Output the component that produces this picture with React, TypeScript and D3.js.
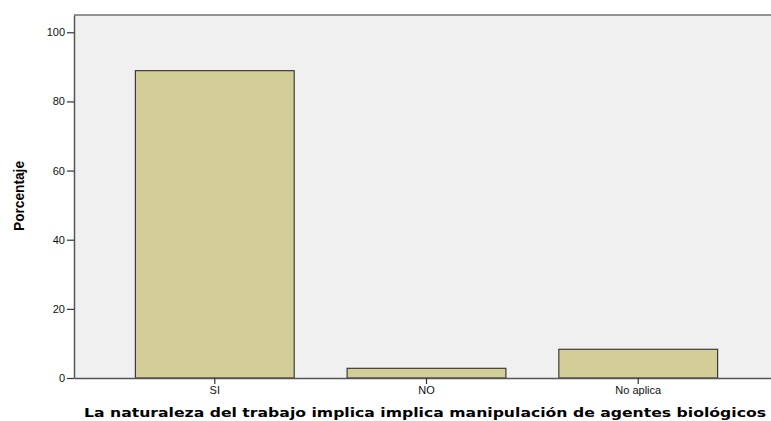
import { useEffect, useRef } from "react";
import * as d3 from "d3";

const categories = ["SI", "NO", "No aplica"];
const percentages = [88.9, 2.8, 8.3];
const yTicks = [0, 20, 40, 60, 80, 100];

const width = 771;
const height = 421;

export default function App() {
  const svgRef = useRef<SVGSVGElement>(null);

  useEffect(() => {
    if (!svgRef.current) return;
    const svg = d3.select(svgRef.current);
    svg.selectAll("*").remove();

    const margin = { top: 15, right: -8, bottom: 43, left: 74 };
    const innerWidth = width - margin.left - margin.right;
    const innerHeight = height - margin.top - margin.bottom;

    const g = svg
      .append("g")
      .attr("transform", `translate(${margin.left},${margin.top})`);

    const xScale = d3
      .scaleBand<string>()
      .domain(categories)
      .range([0, innerWidth])
      .paddingInner(0.25)
      .paddingOuter(0.29);

    const yScale = d3
      .scaleLinear()
      .domain([0, 105])
      .range([innerHeight, 0]);

    // Plot background
    g.append("rect")
      .attr("x", 0)
      .attr("y", 0)
      .attr("width", innerWidth)
      .attr("height", innerHeight)
      .attr("fill", "#f0f0f0");

    // Top frame line
    g.append("line")
      .attr("x1", 0)
      .attr("x2", innerWidth)
      .attr("y1", 0)
      .attr("y2", 0)
      .attr("stroke", "#707070")
      .attr("stroke-width", 1.5);

    // Bars
    g.selectAll("rect.bar")
      .data(categories)
      .enter()
      .append("rect")
      .attr("class", "bar")
      .attr("x", (d) => xScale(d) as number)
      .attr("y", (d, i) => yScale(percentages[i]))
      .attr("width", xScale.bandwidth())
      .attr("height", (d, i) => innerHeight - yScale(percentages[i]))
      .attr("fill", "#d3ce97")
      .attr("stroke", "#3c3c3c")
      .attr("stroke-width", 1.2);

    // Y axis
    const yAxis = g
      .append("g")
      .call(
        d3
          .axisLeft(yScale)
          .tickValues(yTicks)
          .tickSize(7)
          .tickSizeOuter(0)
          .tickPadding(2)
      );
    yAxis.select(".domain").attr("stroke", "#555").attr("stroke-width", 1.5);
    yAxis.selectAll(".tick line").attr("stroke", "#333").attr("stroke-width", 1.2);
    yAxis
      .selectAll("text")
      .attr("fill", "#111")
      .attr("font-family", "Liberation Sans, Arial, sans-serif")
      .attr("font-size", "11px");

    // X axis
    const xAxis = g
      .append("g")
      .attr("transform", `translate(0,${innerHeight})`)
      .call(d3.axisBottom(xScale).tickSize(6).tickSizeOuter(0).tickPadding(2));
    xAxis.select(".domain").attr("stroke", "#555").attr("stroke-width", 1.5);
    xAxis.selectAll(".tick line").attr("stroke", "#333").attr("stroke-width", 1.2);
    xAxis
      .selectAll("text")
      .attr("fill", "#111")
      .attr("font-family", "Liberation Sans, Arial, sans-serif")
      .attr("font-size", "11px");

    // Y axis label
    svg
      .append("text")
      .attr("transform", `translate(23.5,196) rotate(-90)`)
      .attr("text-anchor", "middle")
      .attr("fill", "#000")
      .attr("font-family", "Liberation Sans, Arial, sans-serif")
      .attr("font-weight", "bold")
      .attr("font-size", "14px")
      .attr("textLength", 70)
      .attr("lengthAdjust", "spacingAndGlyphs")
      .text("Porcentaje");

    // X axis label
    svg
      .append("text")
      .attr("x", 84)
      .attr("y", 416.5)
      .attr("fill", "#000")
      .attr("font-family", "DejaVu Sans, Verdana, sans-serif")
      .attr("font-weight", "bold")
      .attr("font-size", "13px")
      .attr("textLength", 682)
      .attr("lengthAdjust", "spacingAndGlyphs")
      .text("La naturaleza del trabajo implica implica manipulación de agentes biológicos");
  }, []);

  return (
    <svg
      ref={svgRef}
      width={width}
      height={height}
      style={{ position: "absolute", left: 0, top: 0, background: "#fff" }}
    />
  );
}
